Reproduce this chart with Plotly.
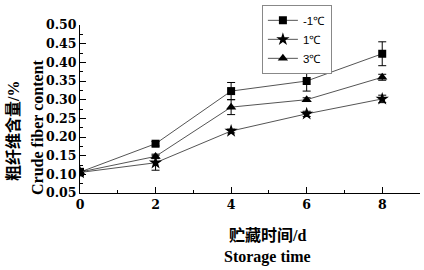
import plotly.graph_objects as go

days = [0, 2, 4, 6, 8]
series_names = ["-1℃", "1℃", "3℃"]
vals_m1 = [0.106, 0.182, 0.323, 0.350, 0.423]
err_m1 = [0.010, 0.006, 0.023, 0.027, 0.032]
vals_1 = [0.105, 0.131, 0.216, 0.262, 0.302]
err_1 = [0.008, 0.020, 0.005, 0.007, 0.010]
vals_3 = [0.106, 0.148, 0.280, 0.300, 0.360]
err_3 = [0.008, 0.006, 0.020, 0.005, 0.008]
symbols = ["square", "star", "triangle-up"]
marker_sizes = [8, 10, 9]

ytick_vals = [0.05, 0.10, 0.15, 0.20, 0.25, 0.30, 0.35, 0.40, 0.45, 0.50]
ytick_text = ["0.05", "0.10", "0.15", "0.20", "0.25", "0.30", "0.35", "0.40", "0.45", "0.50"]
xtick_vals = [0, 2, 4, 6, 8]

serif = "Liberation Serif, Noto Sans CJK SC, serif"
tickfont = dict(family="DejaVu Serif", size=12.5, color="black", weight="bold")

fig = go.Figure()
for name, vals, errs, sym, ms in zip(series_names, [vals_m1, vals_1, vals_3],
                                     [err_m1, err_1, err_3], symbols, marker_sizes):
    fig.add_trace(go.Scatter(
        x=days, y=vals, name=name, mode="lines+markers",
        line=dict(color="#555555", width=1),
        marker=dict(symbol=sym, size=ms, color="black"),
        error_y=dict(type="data", array=errs, visible=True, color="black",
                     thickness=1, width=4),
    ))

W, H = 424, 270
L, R, T, B = 80, 4, 25, 77
fig.update_layout(
    width=W, height=H,
    margin=dict(l=L, r=R, t=T, b=B),
    paper_bgcolor="white", plot_bgcolor="white",
    showlegend=True,
    legend=dict(x=0.535, y=1.12, xanchor="left", yanchor="top",
                bordercolor="#888888", borderwidth=1, bgcolor="white",
                font=dict(family="Liberation Sans, Arial", size=11.5, color="black"),
                tracegroupgap=0, itemwidth=30),
    xaxis=dict(range=[0, 9], tickvals=xtick_vals, ticktext=[str(v) for v in xtick_vals],
               showline=True, linecolor="black", linewidth=1, mirror=False,
               ticks="inside", ticklen=6, tickcolor="black",
               minor=dict(dtick=1, tick0=0, ticks="inside", ticklen=3, tickcolor="black"),
               showgrid=False, zeroline=False, tickfont=tickfont),
    yaxis=dict(range=[0.05, 0.50], tickvals=ytick_vals, ticktext=ytick_text,
               showline=True, linecolor="black", linewidth=1, mirror=False,
               ticks="inside", ticklen=6, tickcolor="black",
               minor=dict(dtick=0.025, tick0=0.05, ticks="inside", ticklen=3, tickcolor="black"),
               showgrid=False, zeroline=False, tickfont=tickfont),
)

pw = W - L - R
ph = H - T - B

def px_x(px):
    return (px - L) / pw

def px_y(py):
    return (H - B - py) / ph

title_font = dict(family=serif, size=16, color="black")
anns = [
    dict(text="<b>粗纤维含量/%</b>", x=px_x(13), y=px_y(131), textangle=-90),
    dict(text="<b>Crude fiber content</b>", x=px_x(37), y=px_y(128), textangle=-90),
    dict(text="<b>贮藏时间/d</b>", x=px_x(267), y=px_y(235), textangle=0),
    dict(text="<b>Storage time</b>", x=px_x(267), y=px_y(257), textangle=0),
]
for a in anns:
    fig.add_annotation(xref="paper", yref="paper", showarrow=False,
                       xanchor="center", yanchor="middle", font=title_font, **a)

fig.write_html("out.html", config={"displayModeBar": False},
               post_script="document.body.style.margin='0';document.body.style.overflow='hidden';")
